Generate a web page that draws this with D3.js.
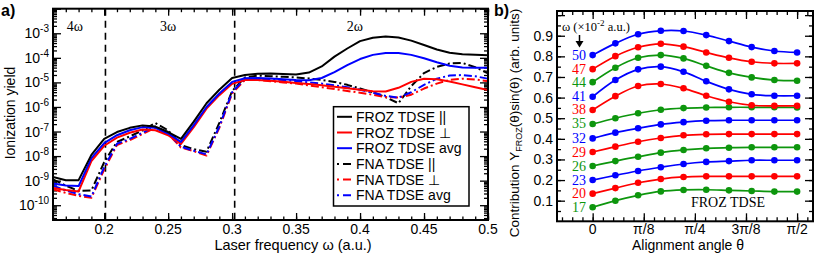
<!DOCTYPE html>
<html>
<head>
<meta charset="utf-8">
<script src="https://cdn.jsdelivr.net/npm/d3@7"></script>
<style>
body{margin:0;background:#fff}
svg{display:block}
text{font-family:"Liberation Sans",Arial,sans-serif}
.serif{font-family:"Liberation Serif","Times New Roman",serif}
</style>
</head>
<body>
<script>
// ---- panel a data: laser frequency (a.u.) and log10 of ionization yield
var omega = [0.16,0.17,0.18,0.19,0.20,0.21,0.22,0.23,0.24,0.25,0.26,0.27,0.28,0.29,0.30,0.31,0.32,0.33,
             0.34,0.35,0.36,0.37,0.38,0.39,0.40,0.41,0.42,0.43,0.44,0.45,0.46,0.47,0.48,0.49,0.50];
var frozPar  = [-8.85,-8.98,-8.98,-7.95,-7.30,-7.02,-6.85,-6.75,-6.80,-7.02,-7.30,-6.60,-5.85,-5.30,-4.82,-4.70,-4.65,-4.64,
                -4.66,-4.68,-4.60,-4.35,-3.95,-3.62,-3.32,-3.18,-3.13,-3.17,-3.30,-3.48,-3.66,-3.79,-3.85,-3.87,-3.89];
var frozPerp = [-9.30,-9.38,-9.44,-8.20,-7.58,-7.25,-7.05,-6.92,-6.95,-7.15,-7.50,-6.82,-6.07,-5.52,-5.06,-4.90,-4.90,-4.93,
                -4.97,-5.02,-5.07,-5.12,-5.18,-5.24,-5.30,-5.36,-5.37,-5.22,-4.98,-4.85,-4.87,-4.96,-5.08,-5.20,-5.31];
var frozAvg  = [-9.12,-9.20,-9.22,-8.08,-7.47,-7.15,-6.95,-6.82,-6.85,-7.08,-7.42,-6.74,-6.00,-5.45,-4.98,-4.83,-4.82,-4.84,
                -4.87,-4.90,-4.91,-4.82,-4.58,-4.30,-4.05,-3.88,-3.80,-3.80,-3.88,-4.02,-4.18,-4.32,-4.39,-4.40,-4.40];
var fnaPar   = [-8.95,-9.20,-9.42,-9.40,-8.25,-7.42,-7.20,-6.95,-6.65,-6.95,-7.55,-7.72,-7.82,-6.65,-5.35,-4.80,-4.72,-4.75,
                -4.77,-4.80,-4.84,-4.90,-4.98,-5.10,-5.25,-5.40,-5.60,-5.85,-5.15,-4.62,-4.37,-4.23,-4.21,-4.38,-4.63];
var fnaPerp  = [-9.35,-9.50,-9.62,-9.70,-8.55,-7.55,-7.35,-7.10,-6.85,-7.10,-7.65,-7.80,-7.98,-6.85,-5.45,-4.90,-4.90,-4.95,
                -5.00,-5.05,-5.12,-5.20,-5.27,-5.35,-5.42,-5.50,-5.60,-5.62,-5.50,-5.25,-5.05,-4.90,-4.85,-4.88,-4.95];
var fnaAvg   = [-9.20,-9.40,-9.55,-9.65,-8.45,-7.50,-7.30,-7.05,-6.80,-7.05,-7.62,-7.78,-7.93,-6.80,-5.40,-4.85,-4.85,-4.87,
                -4.90,-4.95,-5.00,-5.05,-5.12,-5.20,-5.30,-5.42,-5.55,-5.62,-5.40,-5.10,-4.85,-4.72,-4.70,-4.75,-4.85];
var thresholds = [0.201, 0.302];
var regionLabels = [{t:"4ω", w:0.177}, {t:"3ω", w:0.250}, {t:"2ω", w:0.396}];
var xTicksA = [0.2,0.25,0.3,0.35,0.4,0.45,0.5];
var yDecadesA = [-3,-4,-5,-6,-7,-8,-9,-10];

// ---- panel b data: alignment angle (deg) and contribution per frequency (x1e-2 a.u.)
var theta = [0,10,20,30,40,50,60,70,80,90];
var freqs = [17,20,23,26,29,32,35,38,41,44,47,50];
var contrib = [
  [0.068,0.100,0.126,0.145,0.152,0.153,0.150,0.147,0.144,0.144],
  [0.134,0.161,0.187,0.205,0.215,0.218,0.218,0.218,0.218,0.218],
  [0.200,0.223,0.244,0.262,0.278,0.288,0.292,0.296,0.296,0.296],
  [0.268,0.292,0.313,0.333,0.346,0.354,0.357,0.359,0.359,0.359],
  [0.336,0.362,0.386,0.404,0.417,0.422,0.423,0.423,0.423,0.423],
  [0.402,0.430,0.451,0.470,0.481,0.488,0.490,0.490,0.490,0.490],
  [0.472,0.500,0.524,0.541,0.549,0.552,0.553,0.553,0.553,0.552],
  [0.540,0.607,0.656,0.666,0.645,0.609,0.580,0.563,0.560,0.560],
  [0.604,0.685,0.737,0.750,0.725,0.679,0.640,0.616,0.609,0.609],
  [0.675,0.745,0.793,0.806,0.790,0.754,0.720,0.698,0.685,0.682],
  [0.738,0.801,0.844,0.861,0.847,0.819,0.793,0.774,0.766,0.766],
  [0.806,0.863,0.907,0.924,0.923,0.903,0.874,0.845,0.826,0.819]
];
var xTicksB = [{v:0,t:"0"},{v:22.5,t:"π/8"},{v:45,t:"π/4"},{v:67.5,t:"3π/8"},{v:90,t:"π/2"}];
var yTicksB = [0.1,0.2,0.3,0.4,0.5,0.6,0.7,0.8,0.9];

var GREEN = "#0d960d", RED = "#ff0000", BLUE = "#0000ff";

var svg = d3.select("body").append("svg").attr("width", 822).attr("height", 254);

// inward ticks
function ticks(g, scale, vals, orient, size) {
  var f = {bottom:d3.axisBottom, top:d3.axisTop, left:d3.axisLeft, right:d3.axisRight}[orient];
  g.call(f(scale).tickValues(vals).tickSize(-size).tickFormat(""));
  g.select(".domain").remove();
  g.selectAll("line").attr("stroke", "#000").attr("stroke-width", 1.3);
}

// ================= panel a =================
var xa = d3.scaleLinear().domain([0.16, 0.5]).range([53, 488]);
var ya = d3.scaleLog().domain([2.5e-11, 1e-2]).range([220, 8.7]);
var A = svg.append("g");

A.append("clipPath").attr("id", "clipA").append("rect")
  .attr("x", 53).attr("y", 8.7).attr("width", 435).attr("height", 211.3);

var minorX = d3.range(16, 51).map(function(d){return d/100;});
var majorLog = d3.range(-10, -1).map(function(e){return Math.pow(10, e);});
var minorLog = [];
d3.range(-11, -2).forEach(function(e){
  for (var m = 2; m <= 9; m++) { var v = m*Math.pow(10, e); if (v > 2.5e-11 && v < 1e-2) minorLog.push(v); }
});

ticks(A.append("g").attr("transform","translate(0,220)"), xa, minorX, "bottom", 3.5);
ticks(A.append("g").attr("transform","translate(0,220)"), xa, xTicksA, "bottom", 7);
ticks(A.append("g").attr("transform","translate(0,8.7)"), xa, minorX, "top", 3.5);
ticks(A.append("g").attr("transform","translate(0,8.7)"), xa, xTicksA, "top", 7);
ticks(A.append("g").attr("transform","translate(53,0)"), ya, minorLog, "left", 4);
ticks(A.append("g").attr("transform","translate(53,0)"), ya, majorLog, "left", 8);
ticks(A.append("g").attr("transform","translate(488,0)"), ya, minorLog, "right", 4);
ticks(A.append("g").attr("transform","translate(488,0)"), ya, majorLog, "right", 8);

// threshold lines
A.selectAll(".thr").data(thresholds).enter().append("line")
  .attr("x1", function(d){return xa(d);}).attr("x2", function(d){return xa(d);})
  .attr("y1", 8.7).attr("y2", 220)
  .attr("stroke", "#000").attr("stroke-width", 1.6).attr("stroke-dasharray", "7,5");

A.selectAll(".reg").data(regionLabels).enter().append("text").attr("class", "serif")
  .attr("x", function(d){return xa(d.w);}).attr("y", 31)
  .attr("text-anchor", "middle").attr("font-size", 14).text(function(d){return d.t;});

var series = [
  {name:"FNA TDSE ||",   v:fnaPar,   c:"#000", dd:true},
  {name:"FNA TDSE ⊥",    v:fnaPerp,  c:RED,    dd:true},
  {name:"FNA TDSE avg",  v:fnaAvg,   c:BLUE,   dd:true},
  {name:"FROZ TDSE ⊥",   v:frozPerp, c:RED,    dd:false},
  {name:"FROZ TDSE avg", v:frozAvg,  c:BLUE,   dd:false},
  {name:"FROZ TDSE ||",  v:frozPar,  c:"#000", dd:false}
];
var lineA = d3.line().x(function(d,i){return xa(omega[i]);}).y(function(d){return ya(Math.pow(10, d));});
A.append("g").attr("clip-path", "url(#clipA)").selectAll("path").data(series).enter().append("path")
  .attr("d", function(s){return lineA(s.v);})
  .attr("fill", "none").attr("stroke", function(s){return s.c;}).attr("stroke-width", 2)
  .attr("stroke-linejoin", "round")
  .attr("stroke-dasharray", function(s){return s.dd ? "8,3,2,3" : null;});

A.append("rect").attr("x", 53).attr("y", 8.7).attr("width", 435).attr("height", 211.3)
  .attr("fill", "none").attr("stroke", "#000").attr("stroke-width", 2);

// tick labels
A.selectAll(".xl").data(xTicksA).enter().append("text")
  .attr("x", function(d){return xa(d);}).attr("y", 234).attr("text-anchor", "middle")
  .attr("font-size", 14).text(function(d){return d;});
var yl = A.selectAll(".yl").data(yDecadesA).enter().append("text")
  .attr("x", 49).attr("y", function(d){return ya(Math.pow(10, d)) + 5;})
  .attr("text-anchor", "end").attr("font-size", 14);
yl.append("tspan").text("10");
yl.append("tspan").attr("dy", -6).attr("font-size", 10).text(function(d){return d;});

A.append("text").attr("transform", "translate(15,113) rotate(-90)").attr("text-anchor", "middle")
  .attr("font-size", 14).text("Ionization yield");
A.append("text").attr("x", 293).attr("y", 250).attr("text-anchor", "middle")
  .attr("font-size", 14.5).text("Laser frequency ω (a.u.)");
A.append("text").attr("x", 1).attr("y", 16).attr("font-size", 16).attr("font-weight", "bold").text("a)");

// legend
var legOrder = [series[5], series[3], series[4], series[0], series[1], series[2]];
var leg = A.append("g");
leg.append("rect").attr("x", 333.5).attr("y", 106.7).attr("width", 135.5).attr("height", 99.3)
  .attr("fill", "#fff").attr("stroke", "#000").attr("stroke-width", 1.5);
var le = leg.selectAll(".le").data(legOrder).enter().append("g")
  .attr("transform", function(d,i){return "translate(0," + (116.8 + i*15.7) + ")";});
le.append("line").attr("x1", 337).attr("x2", 352).attr("y1", 0).attr("y2", 0)
  .attr("stroke", function(s){return s.c;}).attr("stroke-width", 2)
  .attr("stroke-dasharray", function(s){return s.dd ? "2,4,8,3" : null;});
le.append("text").attr("x", 356).attr("y", 5).attr("font-size", 14).text(function(s){return s.name;});

// ================= panel b =================
var xb = d3.scaleLinear().domain([-15.7, 97]).range([557, 813]);
var yb = d3.scaleLinear().domain([0, 1.02]).range([221.3, 11]);
var B = svg.append("g");

var minorTh = d3.range(-3, 22).map(function(k){return k*4.5;});
var majorTh = xTicksB.map(function(d){return d.v;});
var minorY = d3.range(1, 21).map(function(k){return k*0.05;});
var majorY = d3.range(1, 11).map(function(k){return k*0.1;});
ticks(B.append("g").attr("transform","translate(0,221.3)"), xb, minorTh, "bottom", 4);
ticks(B.append("g").attr("transform","translate(0,221.3)"), xb, majorTh, "bottom", 8);
ticks(B.append("g").attr("transform","translate(0,11)"), xb, minorTh, "top", 4);
ticks(B.append("g").attr("transform","translate(0,11)"), xb, majorTh, "top", 8);
ticks(B.append("g").attr("transform","translate(557,0)"), yb, minorY, "left", 4);
ticks(B.append("g").attr("transform","translate(557,0)"), yb, majorY, "left", 8);
ticks(B.append("g").attr("transform","translate(813,0)"), yb, minorY, "right", 4);
ticks(B.append("g").attr("transform","translate(813,0)"), yb, majorY, "right", 8);

var colB = [GREEN, RED, BLUE];
var lineB = d3.line().curve(d3.curveCatmullRom.alpha(0.5))
  .x(function(d,i){return xb(theta[i]);}).y(function(d){return yb(d);});
var cg = B.selectAll(".cur").data(contrib).enter().append("g");
cg.append("path").attr("d", function(d){return lineB(d);})
  .attr("fill", "none").attr("stroke", function(d,i){return colB[i%3];}).attr("stroke-width", 1.7);
cg.each(function(d,i){
  d3.select(this).selectAll("circle").data(d).enter().append("circle")
    .attr("cx", function(v,j){return xb(theta[j]);}).attr("cy", function(v){return yb(v);})
    .attr("r", 3.3).attr("fill", colB[i%3]);
});
B.selectAll(".fl").data(freqs).enter().append("text").attr("class", "serif")
  .attr("x", 586).attr("y", function(d,i){return yb(contrib[i][0]) + 4.5;})
  .attr("text-anchor", "end").attr("font-size", 14)
  .attr("fill", function(d,i){return colB[i%3];}).text(function(d){return d;});

B.append("rect").attr("x", 557).attr("y", 11).attr("width", 256).attr("height", 210.3)
  .attr("fill", "none").attr("stroke", "#000").attr("stroke-width", 2);

var wl = B.append("text").attr("class", "serif").attr("x", 562).attr("y", 31).attr("font-size", 12.5);
wl.append("tspan").text("ω (×10");
wl.append("tspan").attr("dy", -5).attr("font-size", 9).text("-2");
wl.append("tspan").attr("dy", 5).text(" a.u.)");
B.append("line").attr("x1", 579.5).attr("x2", 579.5).attr("y1", 35).attr("y2", 42)
  .attr("stroke", "#000").attr("stroke-width", 1.5);
B.append("path").attr("d", "M575.5,41 L583.5,41 L579.5,47.5 Z").attr("fill", "#000");

B.append("text").attr("class", "serif").attr("x", 691).attr("y", 207).attr("font-size", 14).text("FROZ TDSE");

B.selectAll(".xl").data(xTicksB).enter().append("text")
  .attr("x", function(d){return xb(d.v);}).attr("y", 234).attr("text-anchor", "middle")
  .attr("font-size", 14).text(function(d){return d.t;});
B.selectAll(".yl").data(yTicksB).enter().append("text")
  .attr("x", 553).attr("y", function(d){return yb(d) + 5;}).attr("text-anchor", "end")
  .attr("font-size", 14).text(function(d){return d.toFixed(1);});

var yt = B.append("text").attr("transform", "translate(519,123) rotate(-90)").attr("text-anchor", "middle")
  .attr("font-size", 13.5);
yt.append("tspan").text("Contribution Y");
yt.append("tspan").attr("dy", 3).attr("font-size", 9).text("FROZ");
yt.append("tspan").attr("dy", -3).text("(θ)sin(θ) (arb. units)");
B.append("text").attr("x", 688).attr("y", 250).attr("text-anchor", "middle")
  .attr("font-size", 14).text("Alignment angle θ");
B.append("text").attr("x", 494).attr("y", 16).attr("font-size", 16).attr("font-weight", "bold").text("b)");
</script>
</body>
</html>
